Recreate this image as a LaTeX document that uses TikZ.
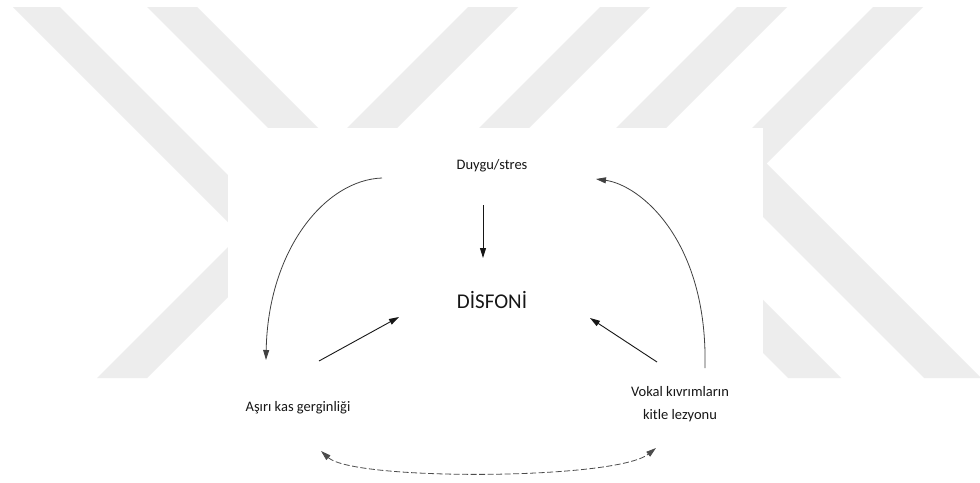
\documentclass[tikz,border=0pt]{standalone}
\usepackage{fontspec}
\setmainfont{Carlito}
\usetikzlibrary{arrows.meta,calc}
\definecolor{wm}{RGB}{237,237,237}
\definecolor{ink}{RGB}{22,22,22}
\tikzset{
  lbl/.style={font=\fontsize{14.5}{23}\selectfont, text=ink, inner sep=0pt, align=center},
  big/.style={font=\fontsize{21}{25}\selectfont, text=ink, inner sep=0pt},
  arr/.style={-{Triangle[length=10pt,width=6pt]}, line width=0.9pt, draw=ink},
  curv/.style={-{Triangle[length=10pt,width=6pt]}, line width=0.8pt, draw=black!75},
  dcurv/.style={{Triangle[length=10pt,width=6pt]}-{Triangle[length=10pt,width=6pt]}, line width=0.8pt, draw=black!70, dash pattern=on 6pt off 2.5pt},
  stripe/.style={fill=wm, draw=none}
}
\begin{document}
\begin{tikzpicture}[x=1pt,y=-1pt]
\useasboundingbox (0,0) rectangle (980,482);
\clip (0,0) rectangle (980,482);
\fill[white] (0,0) rectangle (980,482);
% watermark stripes
\fill[stripe] (13,7) -- (60,7) -- (431,378) -- (384,378) -- cycle;
\fill[stripe] (147,7) -- (197,7) -- (568,378) -- (518,378) -- cycle;
\fill[stripe] (468,7) -- (518,7) -- (147,378) -- (97,378) -- cycle;
\fill[stripe] (600,7) -- (650,7) -- (307,350) -- (257,350) -- cycle;
\fill[stripe] (737,7) -- (787,7) -- (628.5,165.5) -- (841,378) -- (788,378) -- (577,167) -- cycle;
\fill[stripe] (873,7) -- (923,7) -- (766.5,163.5) -- (981,378) -- (924,378) -- (713,167) -- cycle;
% white panel
\fill[white] (228,128) rectangle (763,482);
% nodes
\node[lbl] (duygu) at (492,166) {Duygu/stres};
\node[big] (disfoni) at (492,300) {DİSFONİ};
\node[lbl] (asiri) at (298,408) {Aşırı kas gerginliği};
\node[lbl] (vokal) at (680,404) {Vokal kıvrımların\\kitle lezyonu};
% connectors
\draw[arr] ($(duygu)+(-9,39)$) -- ($(disfoni)+(-9,-42)$);
\draw[arr] ($(asiri)+(21,-47)$) -- ($(disfoni)+(-93,17)$);
\draw[arr] ($(vokal)+(-23,-42)$) -- ($(disfoni)+(98,18)$);
\draw[curv] ($(duygu)+(-110,12)$) .. controls +(-57,2) and +(2,-110) .. ($(asiri)+(-32,-48)$);
\draw[curv] ($(vokal)+(25,-36)$) .. controls +(3,-128) and +(44,6) .. ($(duygu)+(104,13)$);
\draw[dcurv] ($(asiri)+(23,43)$) .. controls +(33,30) and +(-40,32) .. ($(vokal)+(-24,44)$);
\end{tikzpicture}
\end{document}
